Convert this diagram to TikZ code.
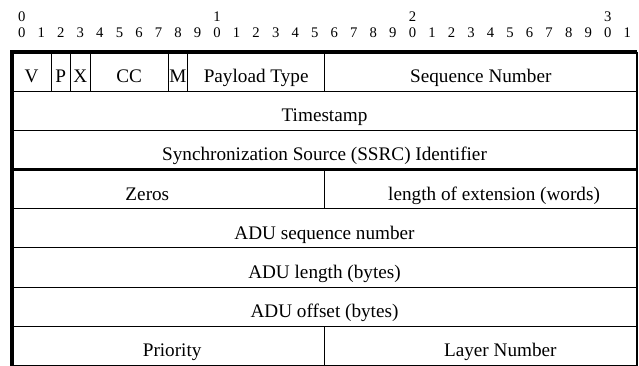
\documentclass[tikz,border=0pt]{standalone}
\usepackage{fontspec}
\setmainfont{Liberation Serif}
\begin{document}
\begin{tikzpicture}[x=14.65pt, y=-29.4pt,
        campo/.style={anchor=base, inner sep=0pt, font=\fontsize{14.4}{17}\selectfont},
        bit/.style={anchor=base, inner sep=0pt, font=\fontsize{11}{13}\selectfont},
        sottile/.style={line width=0.8pt},
        spesso/.style={line width=2.8pt}]
    \useasboundingbox (-0.614,-1.325) rectangle (32.10,8.01);

    % Numeri dei bit
    \foreach \i in {0,...,31} {
        \pgfmathtruncatemacro{\cifra}{mod(\i,10)}
        \node[bit] (b\i) at (\i+0.5,-0.37) {\cifra};
    }
    \foreach \decina in {0,1,2,3}
        \node[bit] (dec\decina) at (\decina*10+0.5,-0.77) {\decina};

    % Righe e colonne
    \foreach \r in {1,2,4,5,6,7,8}
        \draw[sottile] (0,\r) -- (32,\r);
    \foreach \c in {2,3,4,8,9,16}
        \draw[sottile] (\c,0) -- (\c,1);
    \draw[sottile] (16,3) -- (16,4);
    \draw[sottile] (16,7) -- (16,8);

    % Bordi
    \draw[line width=1.6pt] (32,0) -- (32,8);
    \draw[spesso] (0,3) -- (32,3);
    \draw[spesso] (0,8) -- (0,0) -- (32,0);

    % Intestazione RTP
    \node[campo] (v) at (1,0.78) {V};
    \node[campo] (p) at (2.5,0.78) {P};
    \node[campo] (x) at (3.5,0.78) {X};
    \node[campo] (cc) at (6,0.78) {CC};
    \node[campo] (m) at (8.5,0.78) {M};
    \node[campo] (pt) at (12.5,0.78) {Payload Type};
    \node[campo] (seq) at (24,0.78) {Sequence Number};
    \node[campo] (ts) at (16,1.78) {Timestamp};
    \node[campo] (ssrc) at (16,2.78) {Synchronization Source (SSRC) Identifier};

    % Estensione
    \node[campo] (zeri) at (6.93,3.78) {Zeros};
    \node[campo] (lung) at (24.68,3.78) {length of extension (words)};
    \node[campo] (aduseq) at (16,4.78) {ADU sequence number};
    \node[campo] (adulen) at (16,5.78) {ADU length (bytes)};
    \node[campo] (aduoff) at (16,6.78) {ADU offset (bytes)};
    \node[campo] (prio) at (8.2,7.78) {Priority};
    \node[campo] (layer) at (25,7.78) {Layer Number};
\end{tikzpicture}
\end{document}
